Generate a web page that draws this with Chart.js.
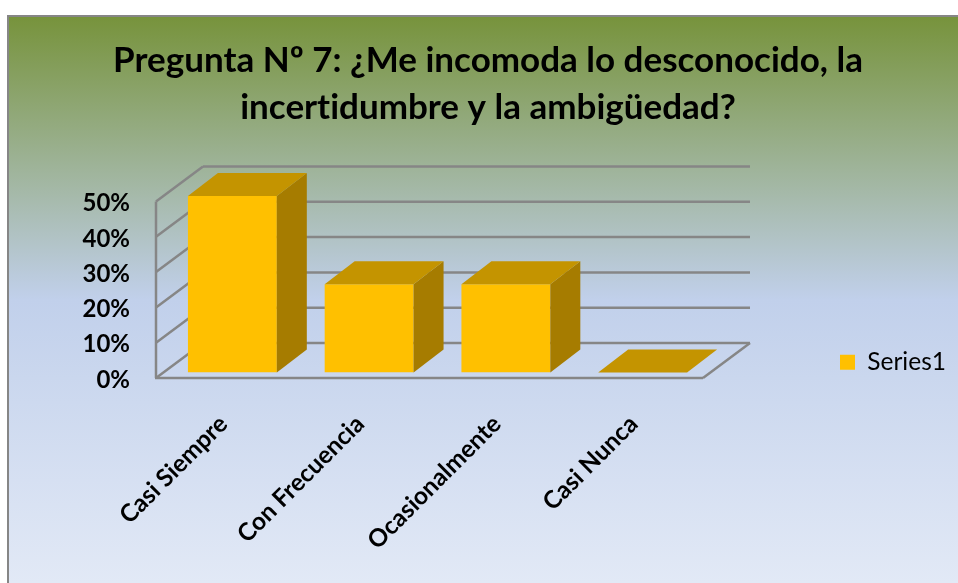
<!DOCTYPE html>
<html>
<head>
<meta charset="utf-8">
<style>
html, body { margin: 0; padding: 0; background: #fff; }
canvas { display: block; }
</style>
<script src="https://cdn.jsdelivr.net/npm/chart.js@4/dist/chart.umd.min.js"></script>
</head>
<body>
<canvas id="myChart" width="958" height="583"></canvas>
<script>
const TITLE_LINES = ["Pregunta Nº 7: ¿Me incomoda lo desconocido, la", "incertidumbre y la ambigüedad?"];
const CATEGORIES = ["Casi Siempre", "Con Frecuencia", "Ocasionalmente", "Casi Nunca"];
const SERIES_NAME = "Series1";
const SERIES_VALUES = [0.5, 0.25, 0.25, 0];

const FONT = "Lato, Carlito, Calibri, sans-serif";
const GRID_COLOR = "#868686";
const BAR_FRONT = "#FFC000";
const BAR_TOP = "#C49400";
const BAR_SIDE = "#A67C00";

// 3d offsets, measured from the plane the bars stand in
const BAR_DEPTH = { x: 30, y: -23 };
const WALL_FRONT = { x: -8, y: 5.5 };
const WALL_BACK = { x: 39, y: -29.5 };

function line(ctx, x1, y1, x2, y2){
    ctx.beginPath();
    ctx.moveTo(x1, y1);
    ctx.lineTo(x2, y2);
    ctx.stroke();
}

function poly(ctx, pts, color){
    ctx.fillStyle = color;
    ctx.beginPath();
    ctx.moveTo(pts[0][0], pts[0][1]);
    for(let i=1;i<pts.length;i++){
        ctx.lineTo(pts[i][0], pts[i][1]);
    }
    ctx.closePath();
    ctx.fill();
}

const backgroundPlugin = {
    id: "background",
    beforeDraw(chart){
        const ctx = chart.ctx;
        ctx.textRendering = "optimizeSpeed"; // no "ti" ligature in the title
        const grad = ctx.createLinearGradient(0, 17, 0, 583);
        grad.addColorStop(0, "#77933C");
        grad.addColorStop(0.5, "#C1D0EB");
        grad.addColorStop(1, "#E2E9F6");
        ctx.save();
        ctx.fillStyle = GRID_COLOR;
        ctx.fillRect(7, 15, 951, 568);
        ctx.fillStyle = grad;
        ctx.fillRect(9, 17, 949, 566);
        ctx.restore();
    }
};

const wallsPlugin = {
    id: "walls",
    beforeDatasetsDraw(chart){
        const ctx = chart.ctx;
        const area = chart.chartArea;
        const yScale = chart.scales.y;
        ctx.save();
        ctx.strokeStyle = GRID_COLOR;
        ctx.lineWidth = 2.5;
        yScale.ticks.forEach(function(tick){
            const y = yScale.getPixelForValue(tick.value);
            // back wall line and the slanted bit on the left wall
            line(ctx, area.left + WALL_BACK.x, y + WALL_BACK.y, area.right + WALL_BACK.x, y + WALL_BACK.y);
            line(ctx, area.left + WALL_FRONT.x, y + WALL_FRONT.y, area.left + WALL_BACK.x, y + WALL_BACK.y);
        });
        const y0 = yScale.getPixelForValue(0);
        const yTop = yScale.getPixelForValue(yScale.max);
        line(ctx, area.left + WALL_FRONT.x, yTop + WALL_FRONT.y, area.left + WALL_FRONT.x, y0 + WALL_FRONT.y);
        line(ctx, area.left + WALL_FRONT.x - 1, y0 + WALL_FRONT.y, area.right + WALL_FRONT.x, y0 + WALL_FRONT.y);
        line(ctx, area.right + WALL_FRONT.x, y0 + WALL_FRONT.y, area.right + WALL_BACK.x, y0 + WALL_BACK.y);
        ctx.restore();
    }
};

const bar3dPlugin = {
    id: "bar3d",
    afterDatasetsDraw(chart){
        const ctx = chart.ctx;
        chart.getDatasetMeta(0).data.forEach(function(bar){
            const left = bar.x - bar.width / 2;
            const right = bar.x + bar.width / 2;
            const dx = BAR_DEPTH.x;
            const dy = BAR_DEPTH.y;
            poly(ctx, [[right, bar.y], [right + dx, bar.y + dy], [right + dx, bar.base + dy], [right, bar.base]], BAR_SIDE);
            poly(ctx, [[left, bar.y], [left + dx, bar.y + dy], [right + dx, bar.y + dy], [right, bar.y]], BAR_TOP);
        });
    }
};

const placementPlugin = {
    id: "placement",
    afterLayout(chart){ // legend and title sit where they are in the picture, not where the layout wants
        const legend = chart.legend;
        legend.left = 830;
        legend.right = 958;
        legend.top = 340;
        legend.bottom = 382;
        legend.width = 128;
        legend.height = 42;
        chart.titleBlock.left = 18;
        chart.titleBlock.right = 958;
        chart.titleBlock.width = 940;
    }
};

new Chart(document.getElementById("myChart").getContext("2d"), {
    type: "bar",
    plugins: [backgroundPlugin, wallsPlugin, bar3dPlugin, placementPlugin],
    data: {
        labels: CATEGORIES,
        datasets: [{
            label: SERIES_NAME,
            data: SERIES_VALUES,
            backgroundColor: BAR_FRONT,
            barPercentage: 1,
            categoryPercentage: 0.65
        }]
    },
    options: {
        responsive: false,
        animation: false,
        layout: { padding: { left: 0, right: 247, top: 0, bottom: 0 } },
        plugins: {
            title: {
                display: true,
                text: TITLE_LINES,
                color: "#000",
                font: { family: FONT, size: 35, weight: "bold", lineHeight: "47px" },
                padding: { top: 37.5, bottom: 64.5 }
            },
            legend: {
                position: "chartArea",
                align: "start",
                labels: {
                    color: "#000",
                    font: { family: FONT, size: 24.5 },
                    boxWidth: 15,
                    boxHeight: 15,
                    padding: 10
                }
            },
            tooltip: { enabled: false }
        },
        scales: {
            x: {
                grid: { display: false },
                border: { display: false },
                ticks: {
                    color: "#000",
                    font: { family: FONT, size: 24.5, weight: "bold" },
                    minRotation: 45,
                    maxRotation: 45,
                    padding: 29,
                    labelOffset: -9
                },
                afterFit(scale){ scale.height = 210.5; }
            },
            y: {
                min: 0,
                max: 0.5,
                grid: { display: false },
                border: { display: false },
                ticks: {
                    stepSize: 0.1,
                    color: "#000",
                    font: { family: FONT, size: 24, weight: "bold" },
                    padding: 26,
                    labelOffset: 7.5,
                    callback: function(v){ return Math.round(v * 100) + "%"; }
                },
                afterFit(scale){ scale.width = 164; }
            }
        }
    }
});
</script>
</body>
</html>
